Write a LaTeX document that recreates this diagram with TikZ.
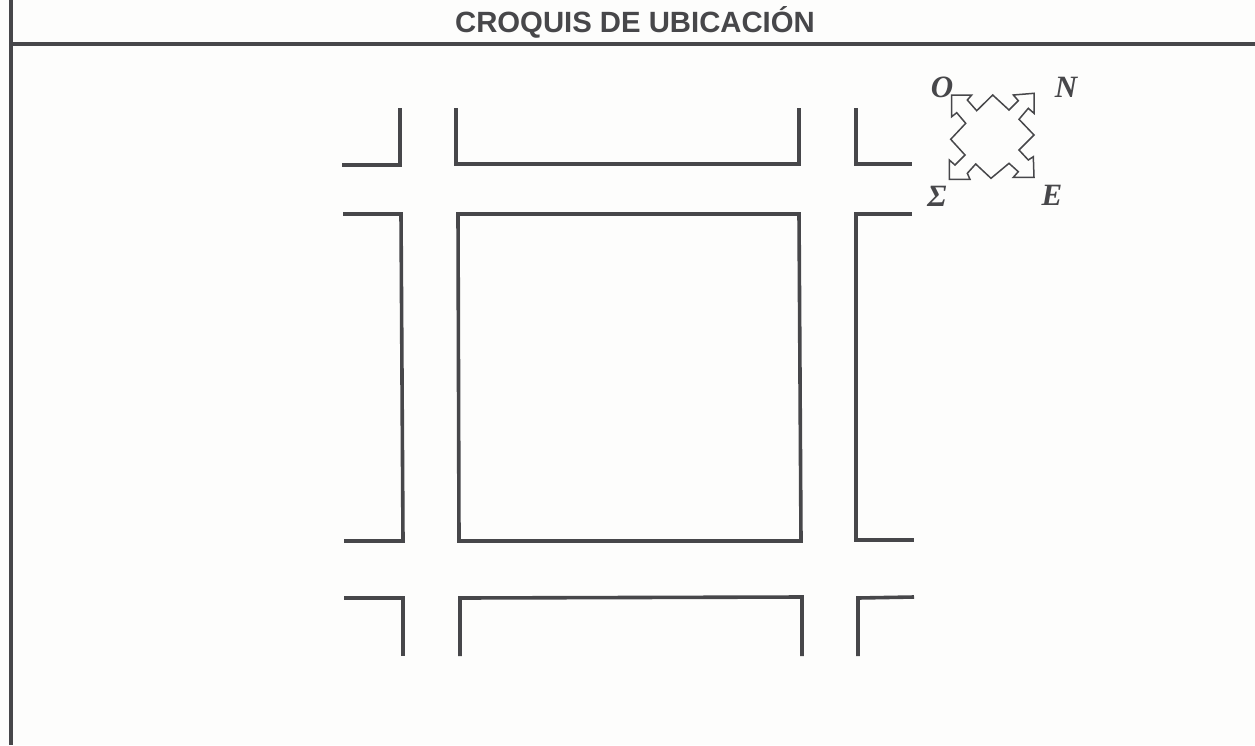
\documentclass[tikz,border=0pt]{standalone}
\usepackage{fontspec}
\setmainfont{Liberation Sans}
\newfontfamily\compassfont{Liberation Serif}
\definecolor{paper}{HTML}{FDFDFC}
\definecolor{ink}{HTML}{47474A}
\begin{document}
\begin{tikzpicture}[x=1pt,y=-1pt,
  street/.style={draw=ink,line width=3.6pt,line join=miter},
  framing/.style={draw=ink,line width=3.6pt},
  compass/.style={draw=ink,line width=1.5pt,fill=none,line join=miter},
  compasslabel/.style={text=ink,font=\compassfont\bfseries\itshape\fontsize{31}{31}\selectfont,inner sep=0pt},
  titlelabel/.style={text=ink,font=\bfseries\fontsize{29.3}{29.3}\selectfont,inner sep=0pt,anchor=base}]
\useasboundingbox[fill=paper] (0,0) rectangle (1255,745);
% frame
\draw[framing] (11,0) -- (11,745);
\draw[framing] (11,44) -- (1255,44);
\node[titlelabel] (title) at (635,32) {CROQUIS DE UBICACIÓN};
% street blocks
\draw[street] (400,108) -- (400,165) -- (342,165);
\draw[street] (456,108) -- (456,164) -- (799,164) -- (799,108);
\draw[street] (856,108) -- (856,164) -- (912,164);
\draw[street] (343,214) -- (401,214) -- (403,541) -- (344,541);
\draw[street] (458,214) -- (799,214) -- (801,541) -- (459,541) -- cycle;
\draw[street] (912,214) -- (856,214) -- (856,540) -- (914,540);
\draw[street] (344,598) -- (403,598) -- (403,656);
\draw[street] (460,656) -- (460,598) -- (802,597) -- (802,656);
\draw[street] (858,656) -- (858,598) -- (914,597);
% compass
\draw[compass] (951.7,95) -- (971.7,95) -- (967.3,100) -- (976.7,110.7) -- (992.7,95) -- (1009,110) -- (1018.3,100.7) -- (1013.3,95) -- (1034,93.3) -- (1034,113.3) -- (1028.3,108.3) -- (1019,119.3) -- (1034,135) -- (1019,150) -- (1028.3,160) -- (1033.3,156.7) -- (1034,177.3) -- (1013.3,177.3) -- (1018.3,171.7) -- (1009,163.3) -- (991,178.3) -- (975.7,164) -- (967.3,173.3) -- (970,179.3) -- (949.3,179.3) -- (949.3,160) -- (955,165) -- (965,155) -- (950.7,139.3) -- (965.7,123.3) -- (956.7,112.7) -- (951.7,116.7) -- cycle;
\node[compasslabel] (north) at (1066,87) {N};
\node[compasslabel] (west) at (942,87) {O};
\node[compasslabel] (south) at (937,196) {Σ};
\node[compasslabel] (east) at (1052,195) {E};
\end{tikzpicture}
\end{document}
